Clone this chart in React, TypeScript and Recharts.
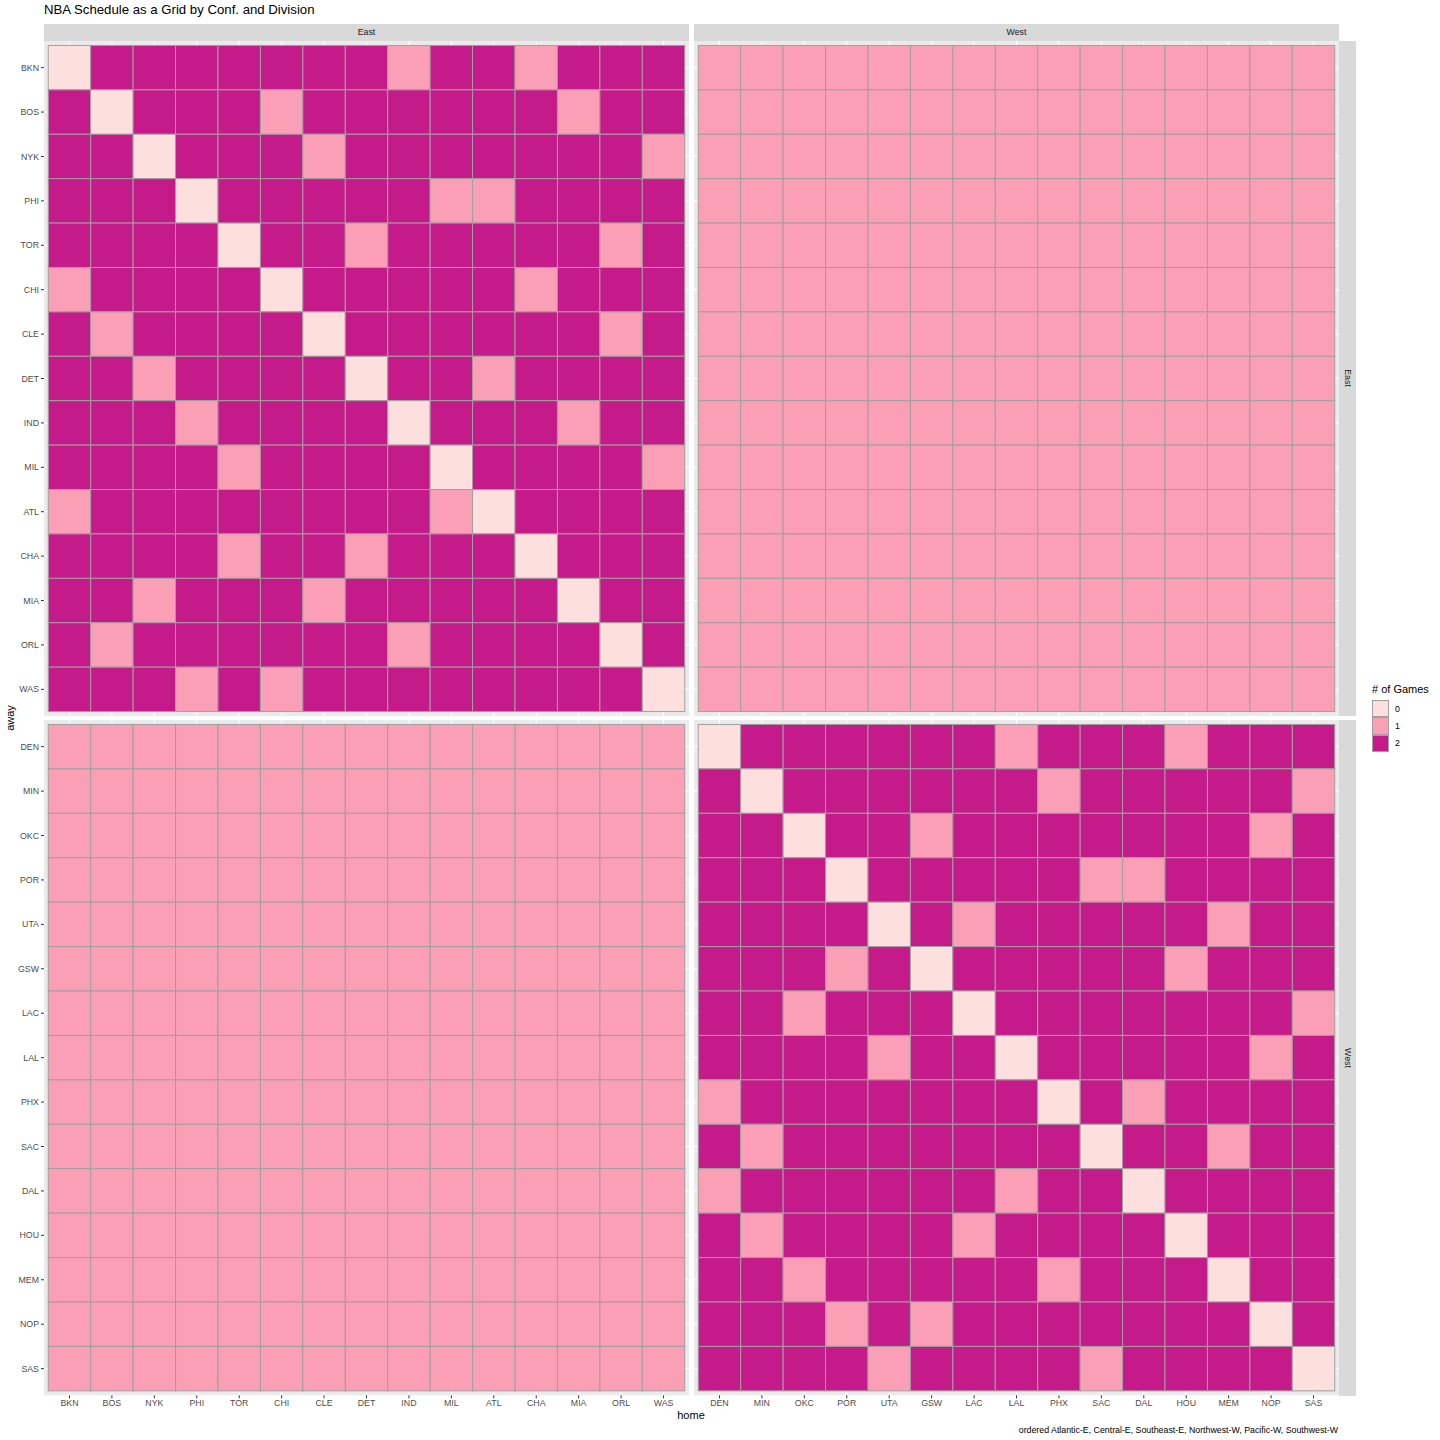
import React from 'react';
import { CartesianGrid, Scatter, ScatterChart, XAxis, YAxis } from 'recharts';

const eastTeams = ['BKN', 'BOS', 'NYK', 'PHI', 'TOR', 'CHI', 'CLE', 'DET', 'IND', 'MIL', 'ATL', 'CHA', 'MIA', 'ORL', 'WAS'];
const westTeams = ['DEN', 'MIN', 'OKC', 'POR', 'UTA', 'GSW', 'LAC', 'LAL', 'PHX', 'SAC', 'DAL', 'HOU', 'MEM', 'NOP', 'SAS'];

// one string per away team, one digit per home team = number of games
const eastAwayEastHome = [
    '022222221221222',
    '202221222222122',
    '220222122222221',
    '222022222112222',
    '222202212222212',
    '122220222221222',
    '212222022222212',
    '221222202212222',
    '222122220222122',
    '222212222022221',
    '122222222102222',
    '222212212220222',
    '221222122222022',
    '212222221222202',
    '222121222222220',
];
const eastAwayWestHome = [
    '111111111111111',
    '111111111111111',
    '111111111111111',
    '111111111111111',
    '111111111111111',
    '111111111111111',
    '111111111111111',
    '111111111111111',
    '111111111111111',
    '111111111111111',
    '111111111111111',
    '111111111111111',
    '111111111111111',
    '111111111111111',
    '111111111111111',
];
const westAwayEastHome = [
    '111111111111111',
    '111111111111111',
    '111111111111111',
    '111111111111111',
    '111111111111111',
    '111111111111111',
    '111111111111111',
    '111111111111111',
    '111111111111111',
    '111111111111111',
    '111111111111111',
    '111111111111111',
    '111111111111111',
    '111111111111111',
    '111111111111111',
];
const westAwayWestHome = [
    '022222212221222',
    '202222221222221',
    '220221222222212',
    '222022222112222',
    '222202122222122',
    '222120222221222',
    '221222022222221',
    '222212202222212',
    '122222220212222',
    '212222222022122',
    '122222212202222',
    '212222122220222',
    '221222221222022',
    '222121222222202',
    '222212222122220',
];

const gameLevels = ['0', '1', '2'];
const levelColors = ['#FDE0DD', '#FA9FB5', '#C51B8A'];

const FONT = '"Liberation Sans", Arial, Helvetica, sans-serif';
const PANEL_W = 645;
const LEFT_X = 44;
const RIGHT_X = 694;
const TOP_Y = 40.5;
const TOP_H = 675;
const BOTTOM_Y = 720.3;
const BOTTOM_H = 675.3;
const STRIP = '#D9D9D9';
const TILE_BORDER = '#A0A0A0';

function toCells(rows: string[]) {
    const cells: { home: number; away: number; games: number }[] = [];
    rows.forEach((row, r) => {
        row.split('').forEach((ch, c) => {
            cells.push({ home: c, away: r, games: Number(ch) });
        });
    });
    return cells;
}

interface PanelProps {
    rows: string[];
    homeTeams: string[];
    awayTeams: string[];
    left: number;
    top: number;
    height: number;
    showX: boolean;
    showY: boolean;
}

function Panel({ rows, homeTeams, awayTeams, left, top, height, showX, showY }: PanelProps) {
    const yW = showY ? LEFT_X : 0;
    const xH = showX ? 22 : 0;
    const unitX = PANEL_W / 15.2;
    const unitY = height / 15.2;
    const ticks = homeTeams.map((_, i) => i);
    const tickStyle = { fontSize: 8.8, fill: '#4D4D4D', fontFamily: FONT };

    const Tile = (p: any) => (
        <rect
            x={p.cx - unitX / 2}
            y={p.cy - unitY / 2}
            width={unitX}
            height={unitY}
            fill={levelColors[p.payload.games]}
            stroke={TILE_BORDER}
            strokeWidth={1}
        />
    );

    return (
        <div style={{ position: 'absolute', left: left - yW, top }}>
            <ScatterChart width={PANEL_W + yW} height={height + xH} margin={{ top: 0, right: 0, bottom: 0, left: 0 }}>
                <CartesianGrid fill="#EBEBEB" stroke="#FFFFFF" strokeWidth={1} syncWithTicks />
                <XAxis
                    type="number"
                    dataKey="home"
                    domain={[-0.6, 14.6]}
                    allowDataOverflow
                    ticks={ticks}
                    interval={0}
                    tickFormatter={(v: number) => homeTeams[v]}
                    hide={!showX}
                    height={xH}
                    axisLine={false}
                    tickSize={3}
                    tickMargin={1}
                    tick={tickStyle}
                    tickLine={{ stroke: '#333333' }}
                />
                <YAxis
                    type="number"
                    dataKey="away"
                    domain={[-0.6, 14.6]}
                    allowDataOverflow
                    reversed
                    ticks={ticks}
                    interval={0}
                    tickFormatter={(v: number) => awayTeams[v]}
                    hide={!showY}
                    width={yW}
                    axisLine={false}
                    tickSize={3}
                    tickMargin={2}
                    tick={tickStyle}
                    tickLine={{ stroke: '#333333' }}
                />
                <Scatter data={toCells(rows)} shape={Tile} isAnimationActive={false} />
            </ScatterChart>
        </div>
    );
}

const abs = (extra: React.CSSProperties): React.CSSProperties => ({ position: 'absolute', fontFamily: FONT, ...extra });

export default function App() {
    return (
        <div style={{ position: 'absolute', left: 0, top: 0, width: 1440, height: 1440, background: '#fff', fontFamily: FONT }}>
            <div style={abs({ left: 44, top: 2, fontSize: 13.2, lineHeight: '16px', color: '#000', whiteSpace: 'nowrap' })}>
                NBA Schedule as a Grid by Conf. and Division
            </div>

            {/* top strips */}
            <div style={abs({ left: LEFT_X, top: 24, width: PANEL_W, height: 16.5, background: STRIP, fontSize: 8.8, color: '#1A1A1A', display: 'flex', alignItems: 'center', justifyContent: 'center' })}>East</div>
            <div style={abs({ left: RIGHT_X, top: 24, width: PANEL_W, height: 16.5, background: STRIP, fontSize: 8.8, color: '#1A1A1A', display: 'flex', alignItems: 'center', justifyContent: 'center' })}>West</div>

            {/* right strips */}
            <div style={abs({ left: 1339, top: TOP_Y, width: 17, height: TOP_H, background: STRIP })}>
                <div style={abs({ left: 8.5, top: TOP_H / 2, fontSize: 8.8, color: '#1A1A1A', transform: 'translate(-50%, -50%) rotate(90deg)', whiteSpace: 'nowrap' })}>East</div>
            </div>
            <div style={abs({ left: 1339, top: BOTTOM_Y, width: 17, height: BOTTOM_H, background: STRIP })}>
                <div style={abs({ left: 8.5, top: BOTTOM_H / 2, fontSize: 8.8, color: '#1A1A1A', transform: 'translate(-50%, -50%) rotate(90deg)', whiteSpace: 'nowrap' })}>West</div>
            </div>

            <Panel rows={eastAwayEastHome} homeTeams={eastTeams} awayTeams={eastTeams} left={LEFT_X} top={TOP_Y} height={TOP_H} showX={false} showY />
            <Panel rows={eastAwayWestHome} homeTeams={westTeams} awayTeams={eastTeams} left={RIGHT_X} top={TOP_Y} height={TOP_H} showX={false} showY={false} />
            <Panel rows={westAwayEastHome} homeTeams={eastTeams} awayTeams={westTeams} left={LEFT_X} top={BOTTOM_Y} height={BOTTOM_H} showX showY />
            <Panel rows={westAwayWestHome} homeTeams={westTeams} awayTeams={westTeams} left={RIGHT_X} top={BOTTOM_Y} height={BOTTOM_H} showX showY={false} />

            {/* axis titles */}
            <div style={abs({ left: 10, top: 718, fontSize: 11, color: '#000', transform: 'translate(-50%, -50%) rotate(-90deg)', whiteSpace: 'nowrap' })}>away</div>
            <div style={abs({ left: 691, top: 1415, fontSize: 11, color: '#000', transform: 'translate(-50%, -50%)', whiteSpace: 'nowrap' })}>home</div>

            {/* legend */}
            <div style={abs({ left: 1372, top: 682, fontSize: 11, lineHeight: '14px', color: '#000', whiteSpace: 'nowrap' })}># of Games</div>
            {gameLevels.map((lab, i) => (
                <React.Fragment key={lab}>
                    <div style={abs({ left: 1372, top: 700 + i * 17.3, width: 17.3, height: 17.3, boxSizing: 'border-box', background: levelColors[i], border: `1px solid ${TILE_BORDER}` })} />
                    <div style={abs({ left: 1395, top: 700 + i * 17.3 + 8.65, fontSize: 8.8, color: '#000', transform: 'translateY(-50%)' })}>{lab}</div>
                </React.Fragment>
            ))}

            {/* caption */}
            <div style={abs({ right: 1440 - 1338, top: 1430, fontSize: 8.8, color: '#000', transform: 'translateY(-50%)', whiteSpace: 'nowrap' })}>
                ordered Atlantic-E, Central-E, Southeast-E, Northwest-W, Pacific-W, Southwest-W
            </div>
        </div>
    );
}
